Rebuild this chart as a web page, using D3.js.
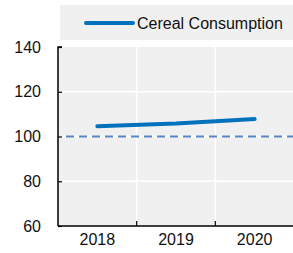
<!DOCTYPE html>
<html lang="en">
<head>
    <meta charset="UTF-8">
    <title>Cereal Consumption</title>
    <style>
        body {
            margin: 0;
            background-color: #ffffff;
        }
        svg {
            display: block;
        }
        text {
            font-family: "Liberation Sans", Arial, sans-serif;
            fill: #111111;
        }
    </style>
    <script src="https://d3js.org/d3.v7.min.js"></script>
</head>
<body>
    <svg width="293" height="253"></svg>

    <script>
        const years = ["2018", "2019", "2020"];
        const consumption = [104.6, 105.8, 107.8];
        const baseline = 100;
        const yTicks = [60, 80, 100, 120, 140];
        const seriesName = "Cereal Consumption";

        const svg = d3.select("svg");
        const plotLeft = 58, plotRight = 294, plotTop = 47, plotBottom = 226;

        const x = d3.scaleBand().domain(years).range([plotLeft, plotRight]);
        const y = d3.scaleLinear().domain([60, 140]).range([plotBottom, plotTop]);

        // фон області графіка
        svg.append("rect")
            .attr("x", plotLeft).attr("y", plotTop)
            .attr("width", 293 - plotLeft).attr("height", plotBottom - plotTop)
            .style("fill", "#f0f0f0");

        // сітка
        svg.selectAll("line.hgrid")
            .data(yTicks.filter(d => d > 60 && d < 140))
            .enter().append("line")
            .attr("class", "hgrid")
            .attr("x1", plotLeft).attr("x2", 293)
            .attr("y1", d => y(d)).attr("y2", d => y(d))
            .style("stroke", "#ffffff").style("stroke-width", 1.5);

        svg.selectAll("line.vgrid")
            .data(years.slice(1))
            .enter().append("line")
            .attr("class", "vgrid")
            .attr("x1", d => x(d)).attr("x2", d => x(d))
            .attr("y1", plotTop).attr("y2", plotBottom)
            .style("stroke", "#ffffff").style("stroke-width", 1.5);

        // пунктирна лінія 100
        svg.append("line")
            .attr("x1", plotLeft + 8).attr("x2", 293)
            .attr("y1", y(baseline)).attr("y2", y(baseline))
            .style("stroke", "#5486c6")
            .style("stroke-width", 2)
            .style("stroke-dasharray", "8,5");

        // осі
        const yAxis = svg.append("g")
            .attr("transform", `translate(${plotLeft},0)`)
            .call(d3.axisLeft(y).tickValues(yTicks).tickSize(-4).tickPadding(17));
        yAxis.select(".domain").attr("d", `M4,${plotTop}H0V${plotBottom}`)
            .style("fill", "none")
            .style("stroke", "#000").style("stroke-width", 1.5);
        yAxis.selectAll(".tick line").style("stroke", "#000").style("stroke-width", 1.2);
        yAxis.selectAll(".tick text")
            .style("font-size", "16px")
            .attr("x", -17);

        const xAxis = svg.append("g")
            .attr("transform", `translate(0,${plotBottom})`)
            .call(d3.axisBottom(x).tickSize(0).tickPadding(8));
        xAxis.select(".domain").attr("d", `M${plotLeft},0H293`)
            .style("stroke", "#000").style("stroke-width", 1.5);
        xAxis.selectAll(".tick text").style("font-size", "16px");
        xAxis.selectAll("line.xtick")
            .data(years.slice(1))
            .enter().append("line")
            .attr("class", "xtick")
            .attr("x1", d => x(d)).attr("x2", d => x(d))
            .attr("y1", 0).attr("y2", -5)
            .style("stroke", "#000").style("stroke-width", 1.2);

        // лінія серії
        const line = d3.line()
            .x((d, i) => x(years[i]) + x.bandwidth() / 2)
            .y(d => y(d));

        svg.append("path")
            .datum(consumption)
            .attr("d", line)
            .style("fill", "none")
            .style("stroke", "#0072bc")
            .style("stroke-width", 4)
            .style("stroke-linecap", "round");

        // легенда
        svg.append("rect")
            .attr("x", 60).attr("y", 5)
            .attr("width", 233).attr("height", 35)
            .style("fill", "#f0f0f0");
        svg.append("line")
            .attr("x1", 86).attr("x2", 133)
            .attr("y1", 23).attr("y2", 23)
            .style("stroke", "#0072bc")
            .style("stroke-width", 4)
            .style("stroke-linecap", "round");
        svg.append("text")
            .attr("x", 137).attr("y", 29)
            .style("font-size", "16px")
            .text(seriesName);
    </script>
</body>
</html>
